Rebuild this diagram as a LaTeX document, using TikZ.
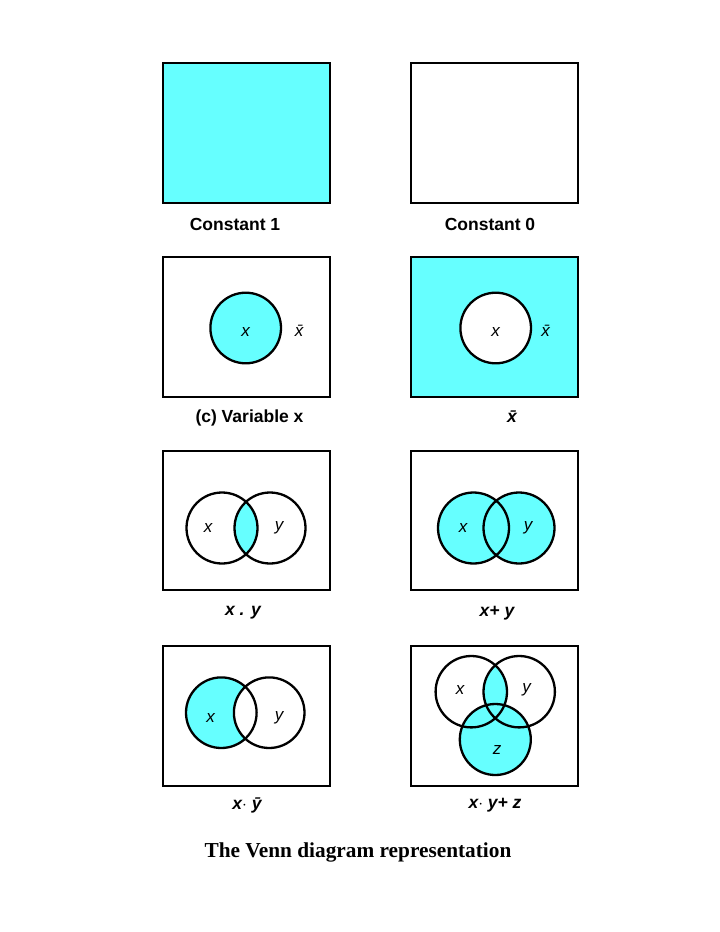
\documentclass[tikz,border=0pt]{standalone}
\usepackage{fontspec}
\setmainfont{Liberation Sans}
\newfontfamily\titlefont{Liberation Serif}
\definecolor{venncyan}{RGB}{102,255,255}
\tikzset{
  boxframe/.style={line width=1.8pt},
  ring/.style={line width=2.3pt},
  caption/.style={font=\bfseries\fontsize{17.5}{20}\selectfont},
  setname/.style={font=\itshape\fontsize{17}{19}\selectfont}
}
\begin{document}
\begin{tikzpicture}[x=1pt, y=-1pt]
        \useasboundingbox (0, 0) rectangle (720, 932);

        % Constant 1
        \draw[boxframe, fill=venncyan] (163, 63) rectangle (330, 203);
        \node[caption] (one) at (235, 224) {Constant 1};

        % Constant 0
        \draw[boxframe] (411, 63) rectangle (578, 203);
        \node[caption] (zero) at (490, 224) {Constant 0};

        % Variable x
        \draw[boxframe] (163, 257) rectangle (330, 397);
        \draw[ring, fill=venncyan] (245.7, 328) circle (35.3pt);
        \node[setname] (xa) at (245.7, 332) {x};
        \node[setname] (xbara) at (299, 331) {\=x};
        \node[caption] (var) at (249.5, 418) {(c) Variable x};

        % Complement of x
        \draw[boxframe, fill=venncyan] (411, 257) rectangle (578, 397);
        \draw[ring, fill=white] (495.7, 328) circle (35.3pt);
        \node[setname] (xb) at (495.7, 332) {x};
        \node[setname] (xbarb) at (545.7, 331) {\=x};
        \node[caption] (compl) at (512, 417) {\itshape\=x};

        % x . y
        \draw[boxframe] (163, 451) rectangle (330, 590);
        \begin{scope}
          \clip (222, 528) circle (35.5pt);
          \fill[venncyan] (270, 528) circle (35.5pt);
        \end{scope}
        \draw[ring] (222, 528) circle (35.5pt);
        \draw[ring] (270, 528) circle (35.5pt);
        \node[setname] (xc) at (208, 528) {x};
        \node[setname] (yc) at (279, 528) {y};
        \node[caption] (andxy) at (243, 613) {\itshape x . y};

        % x + y
        \draw[boxframe] (411, 451) rectangle (578, 590);
        \fill[venncyan] (473.5, 528) circle (35.5pt);
        \fill[venncyan] (519, 528) circle (35.5pt);
        \draw[ring] (473.5, 528) circle (35.5pt);
        \draw[ring] (519, 528) circle (35.5pt);
        \node[setname] (xd) at (463, 528) {x};
        \node[setname] (yd) at (528, 528) {y};
        \node[caption] (orxy) at (497, 613) {\itshape x+ y};

        % x . not y
        \draw[boxframe] (163, 646) rectangle (330, 786);
        \fill[venncyan] (221.3, 712.7) circle (35.3pt);
        \begin{scope}
          \clip (269.2, 712.7) circle (35.3pt);
          \fill[white] (221.3, 712.7) circle (35.3pt);
        \end{scope}
        \draw[ring] (221.3, 712.7) circle (35.3pt);
        \draw[ring] (269.2, 712.7) circle (35.3pt);
        \node[setname] (xe) at (210.7, 718) {x};
        \node[setname] (ye) at (279, 718) {y};
        \node[caption] (xnoty) at (247, 805) {\itshape x$\cdot$ \=y};

        % x . y + z
        \draw[boxframe] (411, 646) rectangle (578, 786);
        \begin{scope}
          \clip (471.3, 691.7) circle (35.7pt);
          \fill[venncyan] (519.2, 691.7) circle (35.7pt);
        \end{scope}
        \fill[venncyan] (495.3, 739.5) circle (35.5pt);
        \draw[ring] (471.3, 691.7) circle (35.7pt);
        \draw[ring] (519.2, 691.7) circle (35.7pt);
        \draw[ring] (495.3, 739.5) circle (35.5pt);
        \node[setname] (xf) at (460, 690) {x};
        \node[setname] (yf) at (526.7, 690) {y};
        \node[setname] (zf) at (497, 750) {z};
        \node[caption] (xyz) at (495, 805) {\itshape x$\cdot$ y+ z};

        % Title
        \node[font=\titlefont\bfseries\fontsize{21.3}{25}\selectfont] (title) at (358, 852) {The Venn diagram representation};
    \end{tikzpicture}
\end{document}
